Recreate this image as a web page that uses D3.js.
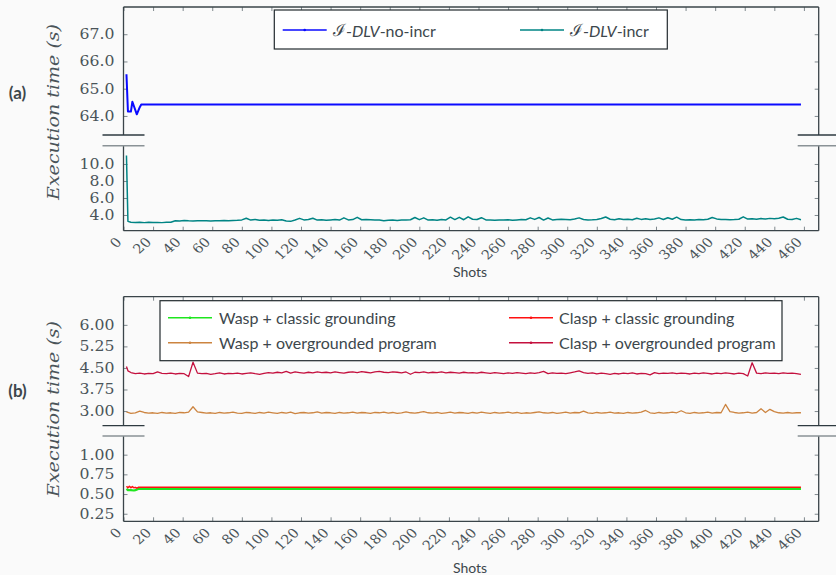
<!DOCTYPE html>
<html><head><meta charset="utf-8">
<script src="https://cdn.jsdelivr.net/npm/d3@7"></script>
<style>body{margin:0;background:#fafafa}svg{display:block}</style>
</head><body>
<svg id="chart" width="836" height="575"></svg>
<script>
// ---------------- DATA ----------------
const xTickValues = [0,20,40,60,80,100,120,140,160,180,200,220,240,260,280,300,320,340,360,380,400,420,440,460];
const yTicksA1 = [64, 65, 66, 67];
const yTicksA2 = [4, 6, 8, 10];
const yTicksB1 = [3.00, 3.75, 4.50, 5.25, 6.00];
const yTicksB2 = [0.25, 0.50, 0.75, 1.00];

// shots sampled for the noisy series
const shots = [2, 3].concat(d3.range(5, 459, 3));

// (a) I-DLV-no-incr : key points of the polyline [shot, seconds]
const noIncrPoints = [[2,65.53],[3,64.16],[5,64.16],[6,64.52],[9,64.06],[11,64.32],[12,64.42],[458,64.42]];

// (a) I-DLV-incr
const incrValues = [11.0,3.25,3.15,3.12,3.14,3.10,3.13,3.11,3.12,3.10,3.13,3.14,3.32,3.30,3.34,3.31,3.30,3.33,3.31,3.32,3.30,
3.33,3.32,3.34,3.31,3.36,3.38,3.42,3.62,3.40,3.48,3.38,3.42,3.36,3.40,3.38,3.44,3.30,3.25,3.40,3.60,
3.42,3.46,3.62,3.40,3.44,3.38,3.42,3.46,3.40,3.66,3.42,3.46,3.72,3.44,3.48,3.45,3.42,3.40,3.32,3.38,
3.40,3.36,3.40,3.42,3.44,3.70,3.45,3.66,3.40,3.44,3.38,3.48,3.42,3.74,3.46,3.72,3.44,3.78,3.50,3.46,
3.68,3.42,3.40,3.38,3.42,3.40,3.44,3.38,3.42,3.46,3.44,3.66,3.48,3.70,3.40,3.64,3.42,3.46,3.50,3.48,
3.44,3.52,3.66,3.46,3.42,3.44,3.48,3.58,3.76,3.50,3.44,3.56,3.46,3.50,3.44,3.62,3.48,3.56,3.46,3.52,
3.66,3.46,3.68,3.50,3.74,3.46,3.42,3.44,3.42,3.46,3.44,3.50,3.70,3.54,3.48,3.46,3.44,3.46,3.50,3.78,
3.52,3.56,3.50,3.58,3.52,3.60,3.56,3.62,3.76,3.50,3.46,3.60,3.44];

// (b) Wasp + classic grounding : key points [shot, seconds]
const waspClassicPoints = [[2,0.565],[3,0.55],[5,0.55],[7,0.545],[8,0.55],[10,0.565],[12,0.566],[458,0.566]];
// (b) Clasp + classic grounding : key points [shot, seconds]
const claspClassicPoints = [[2,0.60],[3,0.58],[4,0.60],[5,0.58],[6,0.595],[7,0.58],[8,0.585],[9,0.575],[10,0.585],[12,0.585],[458,0.585]];

// (b) Wasp + overgrounded program
const waspOverValues = [2.97,2.95,2.92,2.94,3.00,2.95,2.93,2.94,2.92,2.95,2.93,2.94,2.92,2.95,2.94,2.96,3.15,2.97,2.95,2.93,2.94,
2.92,2.95,2.93,2.94,2.96,2.93,2.92,2.95,2.94,2.92,2.95,2.93,2.96,2.94,2.92,2.95,2.93,2.96,2.91,2.94,
2.95,2.93,2.94,2.97,2.93,2.95,2.94,2.92,2.95,2.93,2.94,2.96,2.93,2.95,2.94,2.92,2.95,2.94,2.96,2.93,
2.95,2.92,2.94,2.97,2.94,2.93,2.95,2.98,2.94,2.93,2.95,2.92,2.94,2.96,2.93,2.95,2.94,2.92,2.95,2.93,
2.96,2.94,2.92,2.95,2.93,2.94,2.96,2.93,2.95,2.92,2.94,2.93,2.95,2.97,2.94,2.93,2.95,2.92,2.94,2.96,
2.93,2.95,2.94,3.00,2.94,2.92,2.95,2.93,2.94,2.96,2.93,2.94,2.92,2.95,2.93,2.94,2.96,3.02,2.94,2.92,
2.95,2.93,2.94,2.96,2.94,3.01,2.94,2.92,2.95,2.93,2.94,2.96,2.93,2.95,2.94,3.23,2.98,2.95,2.93,2.94,
2.96,2.93,2.95,3.08,2.95,3.06,2.98,2.94,2.93,2.95,2.93,2.94,2.94];

// (b) Clasp + overgrounded program
const claspOverValues = [4.55,4.40,4.34,4.30,4.32,4.29,4.31,4.30,4.36,4.31,4.30,4.32,4.29,4.31,4.30,4.20,4.70,4.32,4.30,4.31,4.28,
4.30,4.33,4.29,4.31,4.30,4.32,4.29,4.31,4.33,4.30,4.28,4.31,4.34,4.32,4.35,4.33,4.38,4.32,4.36,4.34,
4.32,4.35,4.33,4.36,4.34,4.35,4.33,4.36,4.34,4.32,4.35,4.36,4.34,4.37,4.35,4.33,4.36,4.38,4.35,4.34,
4.36,4.35,4.33,4.36,4.28,4.35,4.34,4.36,4.33,4.35,4.34,4.36,4.33,4.35,4.34,4.32,4.35,4.33,4.34,4.32,
4.35,4.33,4.31,4.34,4.32,4.30,4.33,4.31,4.34,4.32,4.30,4.33,4.31,4.34,4.38,4.30,4.33,4.31,4.32,4.30,
4.33,4.36,4.40,4.34,4.31,4.33,4.29,4.32,4.30,4.28,4.31,4.29,4.32,4.30,4.33,4.29,4.31,4.30,4.26,4.34,
4.30,4.32,4.31,4.33,4.30,4.32,4.31,4.29,4.32,4.30,4.33,4.31,4.29,4.32,4.30,4.33,4.31,4.29,4.32,4.30,
4.22,4.68,4.32,4.30,4.33,4.31,4.32,4.30,4.33,4.31,4.32,4.30,4.28];

const legendA = ["no-incr", "incr"];
const legendB = ["Wasp + classic grounding", "Clasp + classic grounding", "Wasp + overgrounded program", "Clasp + overgrounded program"];

// ---------------- DRAWING ----------------
const C = {blue:"#0a0aff", teal:"#008484", green:"#1ee61e", red:"#ff1010", orange:"#cc8440", crimson:"#c4103e"};
const axisCol = "#3a4449", tickCol = "#7f888d", textCol = "#4a5459", sansCol = "#3d474c";
const serif = "'DejaVu Serif', serif", sans = "Lato, 'Open Sans', sans-serif";

const svg = d3.select("#chart");
svg.append("rect").attr("width",836).attr("height",575).attr("fill","#fafafa");

const x = d3.scaleLinear().domain([0, 470]).range([123.5, 818.7]);

function zip(xs, ys){ return xs.map((s,i)=>[s, ys[i]]); }

function subplot(yDomain, yRange, ticks, fmt, opts){
  const y = d3.scaleLinear().domain(yDomain).range(yRange);
  const g = svg.append("g");
  const [x0, x1] = x.range();
  const yb = y.range()[0], yt = y.range()[1];
  const la = g.append("g").attr("transform",`translate(${x0},0)`)
    .call(d3.axisLeft(y).tickValues(ticks).tickFormat(fmt).tickSize(-4).tickSizeOuter(0).tickPadding(9));
  la.select(".domain").remove();
  la.selectAll("line").attr("stroke", tickCol);
  la.selectAll("text").attr("font-family", serif).attr("font-size", 14).attr("fill", textCol)
    .attr("x", -9/1.12).attr("transform","scale(1.12,1)");
  const ra = g.append("g").attr("transform",`translate(${x1},0)`)
    .call(d3.axisRight(y).tickValues(ticks).tickFormat("").tickSize(-4).tickSizeOuter(0));
  ra.select(".domain").remove();
  ra.selectAll("line").attr("stroke", tickCol);
  if (opts.top){
    const ta = g.append("g").attr("transform",`translate(0,${yt})`)
      .call(d3.axisTop(x).tickValues(xTickValues).tickFormat("").tickSize(-4).tickSizeOuter(0));
    ta.select(".domain").remove();
    ta.selectAll("line").attr("stroke", tickCol);
  }
  if (opts.bottom){
    const ba = g.append("g").attr("transform",`translate(0,${yb})`)
      .call(d3.axisBottom(x).tickValues(xTickValues).tickFormat(d3.format("d")).tickSize(-4).tickSizeOuter(0));
    ba.select(".domain").remove();
    ba.selectAll("line").attr("stroke", tickCol);
    ba.selectAll("text").attr("font-family", serif).attr("font-size", 13).attr("fill", textCol)
      .attr("y", 0).attr("dy", "0.35em").attr("text-anchor","end")
      .attr("transform","translate(-5,9) scale(1.12,1) rotate(-45)");
  }
  const fr = g.append("g").attr("stroke", axisCol).attr("stroke-width",1.3).attr("fill","none");
  fr.append("line").attr("x1",x0).attr("x2",x0).attr("y1",yt).attr("y2",yb);
  fr.append("line").attr("x1",x1).attr("x2",x1).attr("y1",yt).attr("y2",yb);
  if (opts.top) fr.append("line").attr("x1",x0).attr("x2",x1).attr("y1",yt).attr("y2",yt);
  if (opts.bottom) fr.append("line").attr("x1",x0).attr("x2",x1).attr("y1",yb).attr("y2",yb);
  return {g, y};
}

function drawLine(sp, pts, color, w){
  const line = d3.line().x(d=>x(d[0])).y(d=>sp.y(d[1]));
  sp.g.append("path").datum(pts).attr("d", line).attr("fill","none")
    .attr("stroke", color).attr("stroke-width", w).attr("stroke-linejoin","round");
}

function breakMarks(yUp, yLow){
  const [x0, x1] = x.range();
  [x0, x1].forEach(cx=>{
    svg.append("line").attr("x1",cx-21).attr("x2",cx+21).attr("y1",yUp).attr("y2",yUp)
      .attr("stroke","#2e3a40").attr("stroke-width",1.3);
    svg.append("line").attr("x1",cx-21).attr("x2",cx+21).attr("y1",yLow).attr("y2",yLow)
      .attr("stroke","#8a9296").attr("stroke-width",1.6);
  });
}

function yLabel(cx, cy){
  svg.append("text").attr("transform",`translate(${cx},${cy}) rotate(-90)`)
    .attr("text-anchor","middle").attr("dominant-baseline","central")
    .attr("font-family", serif).attr("font-style","italic").attr("font-size",16)
    .attr("fill", textCol).attr("textLength",176).attr("lengthAdjust","spacingAndGlyphs")
    .text("Execution time (s)");
}

function xLabel(cx, cy){
  svg.append("text").attr("x",cx).attr("y",cy).attr("text-anchor","middle")
    .attr("dominant-baseline","central").attr("font-family",sans).attr("font-size",14)
    .attr("fill",sansCol).text("Shots");
}

function panelTag(cx, cy, t){
  svg.append("text").attr("x",cx).attr("y",cy).attr("text-anchor","middle")
    .attr("dominant-baseline","central").attr("font-family",sans).attr("font-weight","bold")
    .attr("font-size",17).attr("fill",sansCol).text(t);
}

function legendSample(lx, ly, color){
  svg.append("line").attr("x1",lx).attr("x2",lx+44).attr("y1",ly).attr("y2",ly)
    .attr("stroke",color).attr("stroke-width",1.4);
  svg.append("circle").attr("cx",lx+22).attr("cy",ly).attr("r",1.3).attr("fill",color);
}

// ---- Panel (a) ----
const a1 = subplot([63.3, 68.0], [135, 7], yTicksA1, d3.format(".1f"), {top:true});
const a2 = subplot([2.15, 12.15], [230.7, 145.7], yTicksA2, d3.format(".1f"), {bottom:true});
drawLine(a1, noIncrPoints, C.blue, 2);
drawLine(a2, zip(shots, incrValues), C.teal, 1.5);
breakMarks(135, 145.7);
yLabel(53.5, 112);
xLabel(470, 271);
panelTag(17.5, 92, "(a)");

svg.append("rect").attr("x",274.3).attr("y",10).attr("width",393).attr("height",39)
  .attr("fill","#ffffff").attr("stroke","#222a2e").attr("stroke-width",1.2);
[[282.7, 333, C.blue, legendA[0]], [520, 570, C.teal, legendA[1]]].forEach(([lx, tx, col, suf])=>{
  legendSample(lx, 30, col);
  const t = svg.append("text").attr("x",tx).attr("y",30).attr("dominant-baseline","central")
    .attr("font-family",sans).attr("font-size",16).attr("fill",sansCol);
  t.append("tspan").attr("font-family","'DejaVu Serif', serif").attr("font-size",17).text("ℐ");
  t.append("tspan").text("-");
  t.append("tspan").attr("font-style","italic").text("DLV");
  t.append("tspan").text("-" + suf);
});

// ---- Panel (b) ----
const b1 = subplot([2.49, 6.98], [425.7, 296.7], yTicksB1, d3.format(".2f"), {top:true});
const b2 = subplot([0.154, 1.237], [521.3, 436], yTicksB2, d3.format(".2f"), {bottom:true});
drawLine(b1, zip(shots, waspOverValues), C.orange, 1.3);
drawLine(b1, zip(shots, claspOverValues), C.crimson, 1.3);
drawLine(b2, waspClassicPoints, C.green, 2.2);
drawLine(b2, claspClassicPoints, C.red, 1.5);
breakMarks(425.7, 436);
yLabel(53.5, 409);
xLabel(470, 567);
panelTag(17.5, 390, "(b)");

svg.append("rect").attr("x",160).attr("y",300.7).attr("width",622).attr("height",60)
  .attr("fill","#ffffff").attr("stroke","#222a2e").attr("stroke-width",1.2);
const legBCols = [C.green, C.red, C.orange, C.crimson];
legendB.forEach((lab, i)=>{
  const col = i % 2, row = Math.floor(i/2);
  const lx = col ? 509 : 168, tx = col ? 559 : 219, ly = row ? 342.7 : 317.7;
  legendSample(lx, ly, legBCols[i]);
  svg.append("text").attr("x",tx).attr("y",ly).attr("dominant-baseline","central")
    .attr("font-family",sans).attr("font-size",16).attr("fill",sansCol).text(lab);
});
</script>
</body></html>
